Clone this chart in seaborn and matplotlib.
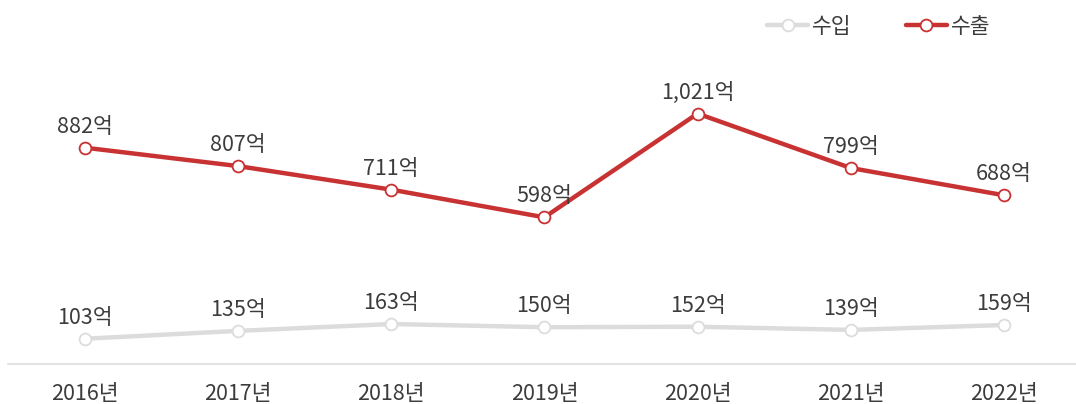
import pandas as pd
import matplotlib.pyplot as plt
import seaborn as sns

years = ["2016년", "2017년", "2018년", "2019년", "2020년", "2021년", "2022년"]
imports = [103, 135, 163, 150, 152, 139, 159]
exports = [882, 807, 711, 598, 1021, 799, 688]

df = pd.DataFrame({"year": years * 2,
                   "value": imports + exports,
                   "kind": ["수입"] * 7 + ["수출"] * 7})

sns.set_theme(style="white")
plt.rcParams['font.family'] = ['Noto Sans CJK KR', 'DejaVu Sans']

colors = {"수입": "#dcdcdc", "수출": "#c83232"}
txt = "#3c3c3c"

fig = plt.figure(figsize=(10.76, 4.04), dpi=100)
ax = fig.add_axes([0.0075, 0.099, 0.9925, 0.901])

for kind in ["수입", "수출"]:
    sub = df[df["kind"] == kind]
    sns.lineplot(data=sub, x="year", y="value", ax=ax, color=colors[kind],
                 linewidth=3.2, marker="o", markersize=8.5, markerfacecolor="white",
                 markeredgecolor=colors[kind], markeredgewidth=1.3, label=kind,
                 sort=False)

for i, v in enumerate(exports):
    ax.annotate(f"{v:,}억", (i, v), xytext=(0, 15), textcoords="offset points",
                ha="center", va="center", fontsize=15.5, color=txt)
for i, v in enumerate(imports):
    ax.annotate(f"{v:,}억", (i, v), xytext=(0, 15), textcoords="offset points",
                ha="center", va="center", fontsize=15.5, color=txt)

ax.set_xlim(-0.5, 6.47)
ax.set_ylim(0, 1484)
ax.set_yticks([])
ax.set_xlabel("")
ax.set_ylabel("")
for s in ["top", "right", "left"]:
    ax.spines[s].set_visible(False)
ax.spines["bottom"].set_color("#dddddd")
ax.spines["bottom"].set_linewidth(1.2)
ax.tick_params(axis="x", length=0, pad=14, labelsize=15.5, labelcolor=txt)

leg = ax.legend(loc="upper right", bbox_to_anchor=(0.938, 1.01), ncol=2, frameon=False,
                fontsize=15.5, handlelength=1.9, columnspacing=2.5, handletextpad=0.2)
for t in leg.get_texts():
    t.set_color(txt)

fig.savefig("out.png", dpi=100)
